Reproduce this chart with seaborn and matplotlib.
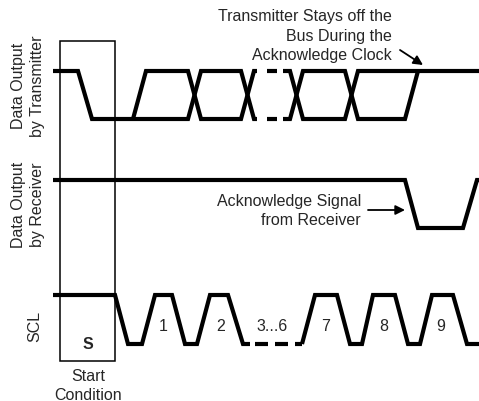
import matplotlib
matplotlib.use('Agg')
import matplotlib.pyplot as plt
import seaborn as sns
from matplotlib.patches import Rectangle

sns.set_theme(style='white')
plt.rcParams['font.family'] = ['Liberation Sans', 'DejaVu Sans']
plt.rcParams['lines.scale_dashes'] = False

# signal rows (pixel rows of high / low level)
TX_HI, TX_LO = 72, 120
RX_HI, RX_LO = 181, 229
SCL_HI, SCL_LO = 296, 345

# transmitter data bus (two crossing strands), time in px, level 1=high 0=low
tx_a_t = [53, 78, 92, 188, 201, 241, 254, 257]
tx_a_v = [1, 1, 0, 0, 1, 1, 0, 0]
tx_b_t = [133, 146, 188, 201, 241, 254, 257]
tx_b_v = [0, 1, 1, 0, 0, 1, 1]
tx_gap_t = [257, 283]
tx_c_t = [283, 290, 303, 345, 358, 479]
tx_c_v = [1, 1, 0, 0, 1, 1]
tx_d_t = [283, 290, 303, 345, 358, 405, 418]
tx_d_v = [0, 0, 1, 1, 0, 0, 1]

# receiver
rx_t = [53, 405, 418, 463, 477, 479]
rx_v = [1, 1, 0, 0, 1, 1]

# clock
scl_a_t = [53, 115, 128, 142, 155, 172, 185, 197, 210, 228, 243, 250]
scl_a_v = [1, 1, 0, 0, 1, 1, 0, 0, 1, 1, 0, 0]
scl_gap_t = [250, 302]
scl_b_t = [302, 315, 337, 350, 362, 373, 395, 408, 420, 432, 453, 467, 479]
scl_b_v = [0, 1, 1, 0, 0, 1, 1, 0, 0, 1, 1, 0, 0]

clock_labels = ['1', '2', '3...6', '7', '8', '9']
clock_label_x = [163, 221, 272, 326, 384, 441]


def lvl(vals, hi, lo):
    return [lo - (lo - hi) * v for v in vals]


fig = plt.figure(figsize=(4.79, 4.02), dpi=100)
ax = fig.add_axes([0, 0, 1, 1])
ax.set_xlim(0, 479)
ax.set_ylim(402, 0)
ax.axis('off')

LW = 3.0
kw = dict(sort=False, estimator=None, ax=ax, color='black', linewidth=LW,
          solid_joinstyle='miter', solid_capstyle='butt', dash_capstyle='butt')


def draw(t, v, hi, lo, ls=None):
    sns.lineplot(x=t, y=lvl(v, hi, lo), **kw)
    if ls is not None:
        ax.lines[-1].set_linestyle(ls)


px = 0.72  # points per pixel
draw(tx_a_t, tx_a_v, TX_HI, TX_LO)
draw(tx_b_t, tx_b_v, TX_HI, TX_LO)
bus_dash = (10 * px, (10 * px, 10 * px))
draw(tx_gap_t, [1, 1], TX_HI, TX_LO, bus_dash)
draw(tx_gap_t, [0, 0], TX_HI, TX_LO, bus_dash)
draw(tx_c_t, tx_c_v, TX_HI, TX_LO)
draw(tx_d_t, tx_d_v, TX_HI, TX_LO)

draw(rx_t, rx_v, RX_HI, RX_LO)

draw(scl_a_t, scl_a_v, SCL_HI, SCL_LO)
draw(scl_gap_t, [0, 0], SCL_HI, SCL_LO, (15 * px, (13 * px, 7 * px)))
draw(scl_b_t, scl_b_v, SCL_HI, SCL_LO)

# start condition box
ax.add_patch(Rectangle((60, 42), 55, 320, fill=False, edgecolor='black', linewidth=1.1))

FS = 11.5
ax.text(88, 345, 'S', ha='center', va='center', fontsize=FS, fontweight='bold')
ax.text(88, 386, 'Start\nCondition', ha='center', va='center', fontsize=FS, linespacing=1.3)

for lab, x in zip(clock_labels, clock_label_x):
    ax.text(x, 327, lab, ha='center', va='center', fontsize=FS)

ax.text(28, 86, 'Data Output\nby Transmitter', ha='center', va='center', rotation=90,
        fontsize=FS, linespacing=1.35)
ax.text(28, 205, 'Data Output\nby Receiver', ha='center', va='center', rotation=90,
        fontsize=FS, linespacing=1.35)
ax.text(35, 326, 'SCL', ha='center', va='center', rotation=90, fontsize=FS)

ax.text(392, 36, 'Transmitter Stays off the\nBus During the\nAcknowledge Clock',
        ha='right', va='center', fontsize=FS, linespacing=1.4)
ax.annotate('', xy=(423, 66), xytext=(400, 51),
            arrowprops=dict(arrowstyle='-|>', color='black', lw=1.3, mutation_scale=14,
                            shrinkA=0, shrinkB=0))

ax.text(361, 211, 'Acknowledge Signal\nfrom Receiver', ha='right', va='center',
        fontsize=FS, linespacing=1.3)
ax.annotate('', xy=(405, 211), xytext=(368, 211),
            arrowprops=dict(arrowstyle='-|>', color='black', lw=1.3, mutation_scale=14,
                            shrinkA=0, shrinkB=0))

fig.savefig('out.png', dpi=100)
